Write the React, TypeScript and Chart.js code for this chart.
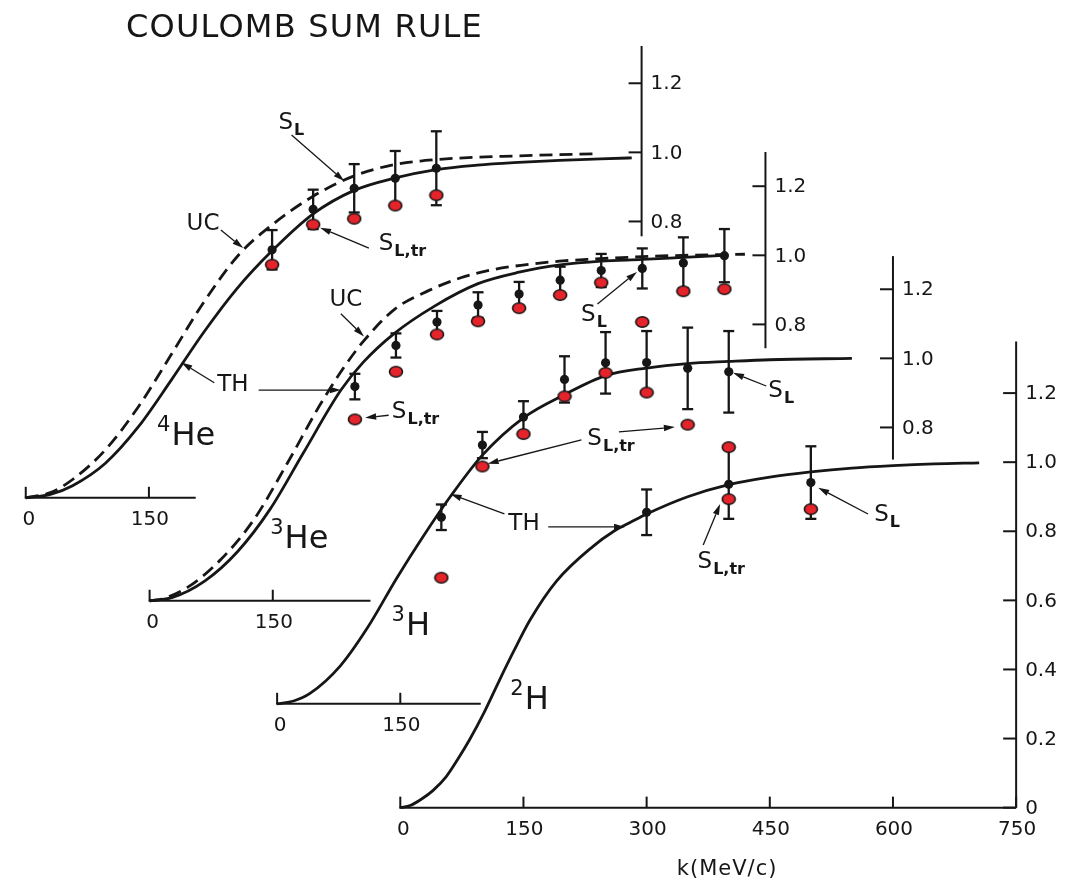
import { useEffect, useRef } from 'react';
import { Chart, registerables } from 'chart.js';

Chart.register(...registerables);

// ---------------------------------------------------------------------------
// Coulomb sum S_L(k) for 4He, 3He, 3H and 2H, k in MeV/c
// ---------------------------------------------------------------------------

// 4He
const he4K = [300, 350, 400, 450, 500];
const he4SL = [0.718, 0.835, 0.896, 0.925, 0.954];
const he4Err = [0.057, 0.057, 0.07, 0.079, 0.107];
const he4SLtr = [0.675, 0.791, 0.808, 0.846, 0.876];
const he4ThK = [0, 30, 57, 97, 137, 177, 217, 257, 300, 350, 400, 450, 500, 550, 600, 650, 700, 738];
const he4Th = [0, 0.01, 0.035, 0.1, 0.205, 0.34, 0.48, 0.605, 0.715, 0.822, 0.89, 0.926, 0.95, 0.963, 0.971, 0.977, 0.981, 0.984];
const he4UcK = [0, 30, 57, 97, 137, 177, 217, 260, 300, 350, 400, 450, 500, 600, 698];
const he4Uc = [0, 0.015, 0.053, 0.139, 0.263, 0.414, 0.567, 0.705, 0.79, 0.873, 0.932, 0.965, 0.979, 0.99, 0.996];

// 3He
const he3K = [250, 300, 350, 400, 450, 500, 550, 600, 650, 700];
const he3SL = [0.62, 0.739, 0.807, 0.856, 0.888, 0.928, 0.956, 0.962, 0.978, 0.999];
const he3Err = [0.037, 0.035, 0.032, 0.037, 0.035, 0.039, 0.048, 0.058, 0.074, 0.077];
const he3SLtr = [0.525, 0.663, 0.771, 0.809, 0.847, 0.885, 0.921, 0.807, 0.896, 0.902];
const he3ThK = [0, 27, 67, 107, 147, 187, 233, 260, 297, 347, 400, 450, 500, 550, 600, 650, 700];
const he3Th = [0, 0.009, 0.057, 0.142, 0.266, 0.427, 0.61, 0.69, 0.772, 0.853, 0.918, 0.951, 0.972, 0.983, 0.988, 0.994, 1.0];
const he3UcK = [0, 15, 47, 87, 127, 167, 207, 235, 260, 299, 339, 379, 419, 459, 499, 539, 600, 650, 725];
const he3Uc = [0, 0.005, 0.04, 0.12, 0.235, 0.395, 0.565, 0.67, 0.75, 0.845, 0.897, 0.935, 0.959, 0.973, 0.983, 0.989, 0.996, 1.0, 1.003];

// 3H
const h3K = [200, 250, 300, 350, 400, 450, 500, 550];
const h3SL = [0.54, 0.749, 0.83, 0.939, 0.987, 0.988, 0.971, 0.961];
const h3Err = [0.037, 0.038, 0.046, 0.067, 0.089, 0.091, 0.118, 0.118];
const h3SLtr = [0.365, 0.687, 0.781, 0.89, 0.958, 0.901, 0.808, 0.743];
const h3ThK = [0, 20, 40, 77, 110, 146, 178, 211, 250, 300, 350, 400, 450, 500, 550, 600, 700];
const h3Th = [0, 0.008, 0.03, 0.11, 0.22, 0.365, 0.485, 0.6, 0.72, 0.828, 0.895, 0.95, 0.972, 0.985, 0.991, 0.996, 1.0];

// 2H
const h2K = [300, 400, 500];
const h2SL = [0.855, 0.936, 0.941];
const h2Err = [0.066, 0.1, 0.105];
const h2TrK = [400, 500];
const h2SLtr = [0.893, 0.864];
const h2ThK = [0, 12, 26, 40, 56, 70, 84, 102, 120, 138, 158, 190, 234, 260, 282, 300, 350, 400, 450, 500, 550, 600, 650, 705];
const h2Th = [0, 0.006, 0.025, 0.05, 0.09, 0.14, 0.195, 0.275, 0.365, 0.452, 0.543, 0.655, 0.755, 0.8, 0.828, 0.85, 0.9, 0.935, 0.957, 0.972, 0.983, 0.99, 0.995, 0.998];

// Axis ticks
const smallXTicks = [0, 150];
const mainXTicks = [0, 150, 300, 450, 600, 750];
const smallYTicks = [0.8, 1.0, 1.2];
const mainYTicks = [0, 0.2, 0.4, 0.6, 0.8, 1.0, 1.2];

// ---------------------------------------------------------------------------
// Layout: every nucleus has its own pair of axes, shifted along the diagonal
// ---------------------------------------------------------------------------
const W = 1071;
const H = 885;
const PX_PER_MEV = 0.832;
const PX_PER_UNIT = 351;
const Y_AXIS_K = 750;

const FONT = '"DejaVu Sans", "Liberation Sans", sans-serif';
const INK = '#161616';
const RED = '#e4232a';

type Panel = {
  id: string;
  ox: number;
  oy: number;
  xEnd: number;
  yFrom: number;
  yTo: number;
  xTicks: number[];
  yTicks: number[];
};

const panels: Panel[] = [
  { id: 'he4', ox: 19, oy: 498.7, xEnd: 207, yFrom: 0.757, yTo: 1.308, xTicks: smallXTicks, yTicks: smallYTicks },
  { id: 'he3', ox: 144.5, oy: 603.3, xEnd: 269, yFrom: 0.731, yTo: 1.299, xTicks: smallXTicks, yTicks: smallYTicks },
  { id: 'h3', ox: 273.7, oy: 708, xEnd: 248, yFrom: 0.707, yTo: 1.296, xTicks: smallXTicks, yTicks: smallYTicks },
  { id: 'h2', ox: 398.5, oy: 813.5, xEnd: 750, yFrom: 0, yTo: 1.349, xTicks: mainXTicks, yTicks: mainYTicks },
];

const series = [
  { panel: 'he4', thK: he4ThK, th: he4Th, ucK: he4UcK, uc: he4Uc, k: he4K, sl: he4SL, err: he4Err, trK: he4K, tr: he4SLtr },
  { panel: 'he3', thK: he3ThK, th: he3Th, ucK: he3UcK, uc: he3Uc, k: he3K, sl: he3SL, err: he3Err, trK: he3K, tr: he3SLtr },
  { panel: 'h3', thK: h3ThK, th: h3Th, ucK: null, uc: null, k: h3K, sl: h3SL, err: h3Err, trK: h3K, tr: h3SLtr },
  { panel: 'h2', thK: h2ThK, th: h2Th, ucK: null, uc: null, k: h2K, sl: h2SL, err: h2Err, trK: h2TrK, tr: h2SLtr },
];

// Annotation labels and pointer arrows, placed in each panel's own (k, S) units
const notes = [
  { panel: 'he4', text: 'S', sub: 'L', k: 307.7, s: 1.093 },
  { panel: 'he4', text: 'S', sub: 'L,tr', k: 429.9, s: 0.743 },
  { panel: 'he4', text: 'UC', sub: '', k: 195.9, s: 0.801 },
  { panel: 'he4', text: 'TH', sub: '', k: 233.2, s: 0.333 },
  { panel: 'he3', text: 'UC', sub: '', k: 219, s: 0.878 },
  { panel: 'he3', text: 'S', sub: 'L,tr', k: 295, s: 0.555 },
  { panel: 'he3', text: 'S', sub: 'L', k: 525.5, s: 0.833 },
  { panel: 'h3', text: 'S', sub: 'L,tr', k: 377.8, s: 0.775 },
  { panel: 'h3', text: 'TH', sub: '', k: 281.6, s: 0.528 },
  { panel: 'h3', text: 'S', sub: 'L', k: 598.2, s: 0.912 },
  { panel: 'h2', text: 'S', sub: 'L,tr', k: 362, s: 0.718 },
  { panel: 'h2', text: 'S', sub: 'L', k: 577.2, s: 0.853 },
];

const pointers = [
  { panel: 'he4', from: [323.7, 1.05], to: [387.9, 0.917] },
  { panel: 'he4', from: [417.9, 0.723], to: [358.5, 0.782] },
  { panel: 'he4', from: [237.6, 0.775], to: [264.8, 0.723] },
  { panel: 'he4', from: [229.6, 0.333], to: [189.5, 0.392] },
  { panel: 'he3', from: [132.8, 0.61], to: [232.9, 0.61] },
  { panel: 'he3', from: [232.9, 0.831], to: [261.1, 0.765] },
  { panel: 'he3', from: [291.1, 0.537], to: [262.5, 0.53] },
  { panel: 'he3', from: [545.4, 0.859], to: [593.5, 0.952] },
  { panel: 'h3', from: [370.6, 0.764], to: [256.4, 0.695] },
  { panel: 'h3', from: [416.2, 0.787], to: [484.4, 0.801] },
  { panel: 'h3', from: [276.8, 0.55], to: [211.2, 0.607] },
  { panel: 'h3', from: [595.7, 0.92], to: [555.2, 0.958] },
  { panel: 'h2', from: [180.2, 0.8125], to: [273.7, 0.8125] },
  { panel: 'h2', from: [368.9, 0.76], to: [389.5, 0.879] },
  { panel: 'h2', from: [569.6, 0.85], to: [509, 0.926] },
];

const nuclei = [
  { panel: 'he4', sup: '4', text: 'He', k: 159.9, s: 0.153 },
  { panel: 'he3', sup: '3', text: 'He', k: 146.9, s: 0.152 },
  { panel: 'h3', sup: '3', text: 'H', k: 139.4, s: 0.199 },
  { panel: 'h2', sup: '2', text: 'H', k: 134, s: 0.285 },
];

const TITLE = 'COULOMB SUM RULE';
const X_TITLE = 'k(MeV/c)';

// ---------------------------------------------------------------------------

function makeRedDot(): HTMLCanvasElement {
  const c = document.createElement('canvas');
  c.width = 16;
  c.height = 14;
  const g = c.getContext('2d') as CanvasRenderingContext2D;
  g.beginPath();
  g.ellipse(8, 7, 6.5, 5.3, 0, 0, Math.PI * 2);
  g.fillStyle = RED;
  g.fill();
  g.lineWidth = 1.6;
  g.strokeStyle = INK;
  g.stroke();
  return c;
}

function seg(ctx: CanvasRenderingContext2D, x1: number, y1: number, x2: number, y2: number) {
  ctx.beginPath();
  ctx.moveTo(x1, y1);
  ctx.lineTo(x2, y2);
  ctx.stroke();
}

function arrow(ctx: CanvasRenderingContext2D, x1: number, y1: number, x2: number, y2: number) {
  const a = Math.atan2(y2 - y1, x2 - x1);
  const len = 11;
  const half = 3.2;
  const bx = x2 - len * Math.cos(a);
  const by = y2 - len * Math.sin(a);
  ctx.lineWidth = 1.3;
  seg(ctx, x1, y1, bx, by);
  ctx.beginPath();
  ctx.moveTo(x2, y2);
  ctx.lineTo(bx + half * Math.sin(a), by - half * Math.cos(a));
  ctx.lineTo(bx - half * Math.sin(a), by + half * Math.cos(a));
  ctx.closePath();
  ctx.fill();
}

const sumRulePlugin = {
  id: 'sumRuleDecor',
  beforeDatasetsDraw(chart: any) {
    const ctx: CanvasRenderingContext2D = chart.ctx;
    ctx.save();
    ctx.strokeStyle = INK;
    ctx.fillStyle = INK;
    ctx.lineCap = 'butt';

    // axes of every panel
    for (const p of panels) {
      const xs = chart.scales['x_' + p.id];
      const ys = chart.scales['y_' + p.id];
      const y0 = ys.getPixelForValue(0);
      const xA = xs.getPixelForValue(Y_AXIS_K);
      ctx.lineWidth = 2;
      seg(ctx, xs.getPixelForValue(0) - 1, y0, xs.getPixelForValue(p.xEnd), y0);
      seg(ctx, xA, ys.getPixelForValue(p.yFrom), xA, ys.getPixelForValue(p.yTo));

      ctx.font = `20px ${FONT}`;
      ctx.textAlign = 'center';
      ctx.textBaseline = 'middle';
      for (const t of p.xTicks) {
        const x = xs.getPixelForValue(t);
        seg(ctx, x, y0, x, y0 - 11);
        ctx.fillText(String(t), x + (t === 0 ? 3 : 1), y0 + 22);
      }
      ctx.textAlign = 'left';
      for (const t of p.yTicks) {
        const y = ys.getPixelForValue(t);
        seg(ctx, xA - 13, y, xA, y);
        ctx.fillText(t === 0 ? '0' : t.toFixed(1), xA + 9, y + 1);
      }
    }

    // error bars on S_L
    ctx.lineWidth = 2.3;
    for (const s of series) {
      const xs = chart.scales['x_' + s.panel];
      const ys = chart.scales['y_' + s.panel];
      s.k.forEach((k, i) => {
        const x = xs.getPixelForValue(k);
        const top = ys.getPixelForValue(s.sl[i] + s.err[i]);
        const bot = ys.getPixelForValue(s.sl[i] - s.err[i]);
        seg(ctx, x, top, x, bot);
        seg(ctx, x - 5.5, top, x + 5.5, top);
        seg(ctx, x - 5.5, bot, x + 5.5, bot);
      });
    }
    ctx.restore();
  },
  afterDatasetsDraw(chart: any) {
    const ctx: CanvasRenderingContext2D = chart.ctx;
    const px = (panel: string, k: number) => chart.scales['x_' + panel].getPixelForValue(k);
    const py = (panel: string, s: number) => chart.scales['y_' + panel].getPixelForValue(s);
    ctx.save();
    ctx.fillStyle = INK;
    ctx.strokeStyle = INK;
    ctx.textAlign = 'left';
    ctx.textBaseline = 'alphabetic';

    for (const a of pointers) {
      arrow(ctx, px(a.panel, a.from[0]), py(a.panel, a.from[1]), px(a.panel, a.to[0]), py(a.panel, a.to[1]));
    }

    for (const n of notes) {
      const x = px(n.panel, n.k);
      const base = py(n.panel, n.s) + 8.5;
      ctx.font = `23px ${FONT}`;
      ctx.fillText(n.text, x, base);
      if (n.sub) {
        const w = ctx.measureText(n.text).width;
        ctx.font = `bold 16px ${FONT}`;
        ctx.fillText(n.sub, x + w + 1, base + 6);
      }
    }

    for (const n of nuclei) {
      const x = px(n.panel, n.k);
      const base = py(n.panel, n.s);
      ctx.font = `21px ${FONT}`;
      ctx.fillText(n.sup, x, base - 14);
      const w = ctx.measureText(n.sup).width;
      ctx.font = `32px ${FONT}`;
      ctx.fillText(n.text, x + w + 1, base);
    }

    // figure title and k-axis caption
    ctx.font = `32px ${FONT}`;
    (ctx as any).letterSpacing = '1.2px';
    ctx.fillText(TITLE, 126, 37);
    ctx.font = `21px ${FONT}`;
    (ctx as any).letterSpacing = '1px';
    ctx.textAlign = 'center';
    ctx.fillText(X_TITLE, px('h2', 398), py('h2', 0) + 67);
    ctx.restore();
  },
};

export default function App() {
  const ref = useRef<HTMLCanvasElement>(null);

  useEffect(() => {
    document.body.style.margin = '0';
    const canvas = ref.current;
    if (!canvas) return;
    const redDot = makeRedDot();

    const scales: Record<string, any> = {};
    for (const p of panels) {
      const xMin = -p.ox / PX_PER_MEV;
      const yMin = -(H - p.oy) / PX_PER_UNIT;
      scales['x_' + p.id] = { type: 'linear', display: false, bounds: 'data', min: xMin, max: xMin + W / PX_PER_MEV };
      scales['y_' + p.id] = { type: 'linear', display: false, bounds: 'data', min: yMin, max: yMin + H / PX_PER_UNIT };
    }

    const datasets: any[] = [];
    for (const s of series) {
      const axes = { xAxisID: 'x_' + s.panel, yAxisID: 'y_' + s.panel };
      datasets.push({
        type: 'line',
        label: `${s.panel} TH`,
        data: s.thK.map((k, i) => ({ x: k, y: s.th[i] })),
        borderColor: INK,
        borderWidth: 2.8,
        pointRadius: 0,
        cubicInterpolationMode: 'monotone',
        fill: false,
        order: 3,
        ...axes,
      });
      if (s.ucK && s.uc) {
        const uc = s.uc;
        datasets.push({
          type: 'line',
          label: `${s.panel} UC`,
          data: s.ucK.map((k, i) => ({ x: k, y: uc[i] })),
          borderColor: INK,
          borderWidth: 2.8,
          borderDash: [13, 7],
          pointRadius: 0,
          cubicInterpolationMode: 'monotone',
          fill: false,
          order: 3,
          ...axes,
        });
      }
      datasets.push({
        type: 'scatter',
        label: `${s.panel} S_L`,
        data: s.k.map((k, i) => ({ x: k, y: s.sl[i] })),
        pointStyle: 'circle',
        pointRadius: 4.6,
        backgroundColor: INK,
        borderWidth: 0,
        showLine: false,
        order: 2,
        ...axes,
      });
      datasets.push({
        type: 'scatter',
        label: `${s.panel} S_L,tr`,
        data: s.trK.map((k, i) => ({ x: k, y: s.tr[i] })),
        pointStyle: redDot,
        pointRadius: 6,
        showLine: false,
        order: 1,
        ...axes,
      });
    }

    const chart = new Chart(canvas, {
      type: 'scatter',
      data: { datasets },
      options: {
        responsive: false,
        animation: false,
        devicePixelRatio: 1,
        events: [],
        layout: { padding: 0 },
        scales,
        plugins: {
          legend: { display: false },
          tooltip: { enabled: false },
          title: { display: false },
        },
      } as any,
      plugins: [sumRulePlugin],
    });
    return () => chart.destroy();
  }, []);

  return (
    <div style={{ width: W, height: H, background: '#ffffff', overflow: 'hidden' }}>
      <canvas ref={ref} width={W} height={H} style={{ display: 'block' }} />
    </div>
  );
}
